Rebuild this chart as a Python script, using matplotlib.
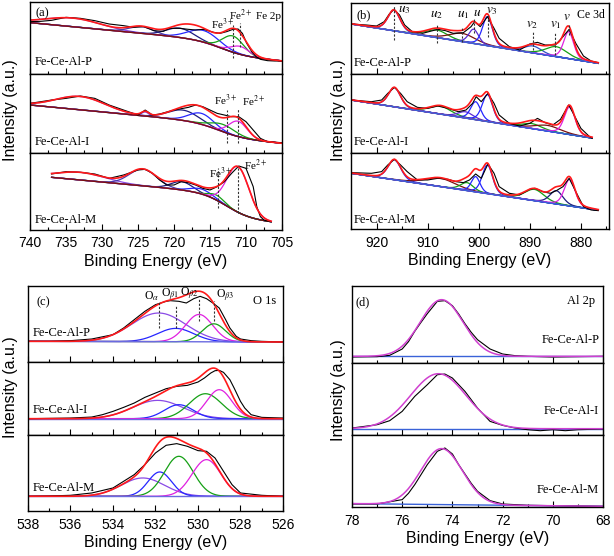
import numpy as np
import matplotlib
matplotlib.use('Agg')
import matplotlib.pyplot as plt
from matplotlib.ticker import MultipleLocator

plt.rcParams['font.family'] = ['Liberation Sans', 'DejaVu Sans']
plt.rcParams['mathtext.fontset'] = 'stix'

samples = ['Fe-Ce-Al-P', 'Fe-Ce-Al-I', 'Fe-Ce-Al-M']

# ---------------- (a) Fe 2p ----------------
fe2pE_P = [740, 738.5, 737, 735, 733, 731, 729, 727, 725.6, 724.2, 722.8, 721.5, 720.6, 719.2, 718, 717, 715.9,
           714.5, 713.6, 712.7, 711.8, 711.1, 710.5, 709.9, 709.2, 708.6, 708, 707, 706, 705]
fe2pI_P = [157, 158, 161, 170, 167, 160, 150, 145, 140, 142, 130, 128, 137, 137, 134, 132, 134,
           125, 122, 127, 134, 135, 122, 92, 67, 52, 44, 40, 39, 39]
fe2pE_I = [740, 737, 735, 733, 731, 729, 727, 725, 724, 723, 722, 720, 718, 717, 716, 715, 714, 713, 712, 711,
           710, 709, 708, 707, 705]
fe2pI_I = [148, 158, 163, 170, 163, 143, 128, 113, 128, 113, 116, 128, 136, 143, 138, 128, 118, 113, 108, 108,
           93, 68, 43, 33, 30]
fe2pE_M = [737, 735, 733, 731, 729, 727, 725, 724, 723, 722, 721, 720, 719, 718, 717, 716, 715, 714, 713, 712,
           711, 710, 709, 708.5, 708, 707.5, 707, 706.5]
fe2pI_M = [168, 175, 173, 168, 155, 165, 180, 182, 170, 150, 135, 135, 145, 142, 135, 125, 120, 130, 145, 170,
           192, 185, 130, 70, 40, 30, 27, 25]

# fitted components: (centre eV, height, fwhm eV)
fe2pPeaks_P = [(734, 26, 9), (724.5, 20, 4), (719.2, 28, 4.5), (715.9, 35, 5), (711.8, 49, 3.4), (710.8, 24, 3)]
fe2pPeaks_I = [(733, 40, 8), (724, 12, 1.2), (718.7, 31, 5), (716.2, 33, 4), (713.2, 22, 4), (711.1, 46, 3)]
fe2pPeaks_M = [(733, 23, 8), (724.3, 50, 4.5), (718.9, 25, 3.5), (716.2, 15, 3.5), (714.1, 15, 2.5), (711.1, 137, 3.6)]
# Shirley-type background: (level at 705, slope, step, step centre, step width)
fe2pBg = [(39, 2.06, 43, 713.5, 1.8), (28, 2.06, 43, 713.8, 1.8), (20, 2.0, 74, 712.7, 1.7)]
fe2pRange = [(740, 705), (740, 705), (737, 706.5)]
fe2pMarks = [[(711.8, 47, 147), (710.8, 82, 154)],
             [(712.7, 28, 128), (711.1, 28, 130)],
             [(713.9, 65, 185), (711.1, 50, 193)]]
fe2pLabels = [[('Fe$^{3+}$', 714.8, 150), ('Fe$^{2+}$', 712.3, 177), ('Fe 2p', 708.6, 172)],
              [('Fe$^{3+}$', 714.4, 158), ('Fe$^{2+}$', 710.6, 153)],
              [('Fe$^{3+}$', 715.2, 170), ('Fe$^{2+}$', 710.3, 195)]]

# ---------------- (b) Ce 3d ----------------
ce3dE_P = [925, 922, 920, 918.5, 917.5, 916.6, 915.5, 914.5, 913, 911, 909, 908, 906.5, 905, 903, 901.5, 900.8,
           899.7, 898.3, 897, 896, 894, 892, 890, 888.5, 887, 885, 883.5, 882.3, 881, 879.5, 878, 876.6]
ce3dI_P = [150, 147, 144, 157, 180, 194, 177, 147, 127, 122, 130, 134, 130, 122, 124, 142, 157,
           142, 172, 137, 107, 82, 72, 90, 95, 87, 87, 112, 134, 92, 54, 39, 34]
ce3dE_I = [925, 921, 919, 917.8, 916.5, 915.3, 914, 912, 910, 908, 906, 904, 902.5, 901.2, 900.5, 899.5, 898.2,
           897, 896, 894, 892, 890, 888.5, 887, 885.5, 884, 882.4, 881.5, 880, 878.3, 877.8]
ce3dI_I = [158, 153, 158, 178, 196, 178, 153, 136, 133, 140, 133, 123, 128, 148, 168, 153, 178,
           148, 113, 88, 80, 88, 103, 90, 83, 100, 143, 118, 73, 48, 43]
ce3dE_M = [925, 921, 919, 917.8, 916.5, 915.3, 914, 912, 910, 908, 906, 904.5, 903, 901.8, 900.6, 899.5, 898.2,
           897, 896, 894, 892, 890, 889, 887.5, 886, 884.8, 883.5, 882.3, 881, 879.5, 878, 876.6]
ce3dI_M = [170, 168, 173, 193, 210, 193, 173, 148, 148, 153, 150, 143, 140, 148, 166, 153, 196,
           168, 128, 108, 103, 120, 123, 113, 108, 116, 128, 153, 113, 68, 58, 56]

ce3dPeaks_P = [(916.6, 62, 2.8), (908.2, 23, 5), (903.2, 25, 6), (901.0, 43, 2.3), (898.3, 87, 2.3),
               (889.4, 21, 4), (884.8, 30, 5), (882.4, 81, 2.3)]
ce3dPeaks_I = [(916.5, 58, 2.8), (907.5, 24, 5), (902.6, 19, 3.5), (900.6, 54, 2.3), (898.3, 81, 2.4),
               (889.6, 15, 4.5), (886.5, 17, 6), (882.2, 83, 2.5)]
ce3dPeaks_M = [(916.5, 60, 3), (907.5, 25, 7), (902.3, 24, 3), (900.6, 46, 2.0), (898.3, 86, 2.4),
               (889.1, 34, 4.5), (884.8, 40, 3), (882.2, 80, 2.5)]
# linear background: (level at 925, slope per eV)
ce3dBg = [(150, 2.44), (158, 2.42), (168, 2.29)]
ce3dRange = [(925, 876.6), (925, 877.8), (925, 876.6)]
ce3dMarks = [(916.6, 102, 207), (908.2, 92, 147), (903.2, 97, 142), (900.9, 122, 167), (898.2, 112, 177),
             (889.4, 72, 127), (885.0, 57, 122), (882.3, 117, 147)]
ce3dLabels = [('$u_3$', 914.6, 192), ('$u_2$', 908.2, 177), ('$u_1$', 903.0, 177), ('$u$', 900.3, 184),
              ('$v_3$', 897.5, 188), ('$v_2$', 889.6, 148), ('$v_1$', 885.0, 148), ('$v$', 882.8, 170)]

# ---------------- (c) O 1s ----------------
o1sE_P = [538, 537, 536, 535, 534, 533.5, 533, 532.5, 532, 531.5, 531.3, 530.9, 530.55, 530.2, 529.9, 529.6,
          529.3, 529.0, 528.7, 528.5, 528.2, 528.0, 527.5, 527, 526]
o1sI_P = [62, 62, 64, 69, 82, 102, 127, 152, 172, 182, 184, 182, 177, 190, 197, 190,
          177, 162, 127, 102, 77, 69, 64, 62, 60]
o1sE_I = [538, 536, 535, 534.5, 534, 533.5, 533, 532.5, 532, 531.5, 531, 530.5, 530, 529.7, 529.4, 529.2,
          529.0, 528.8, 528.5, 528.3, 528.0, 527.8, 527.5, 527, 526]
o1sI_I = [48, 50, 53, 60, 70, 82, 95, 112, 125, 138, 145, 148, 158, 170, 185, 192,
          193, 187, 165, 140, 100, 80, 60, 52, 50]
o1sE_M = [538, 537, 536, 535, 534, 533.5, 533, 532.5, 532, 531.5, 531, 530.5, 530, 529.6, 529.2, 528.8,
          528.4, 528, 527, 526]
o1sI_M = [45, 46, 48, 55, 70, 90, 110, 140, 175, 198, 203, 195, 182, 180, 160, 120,
          80, 55, 48, 45]

o1sPeaks_P = [(531.85, 86, 3.0), (531.05, 40, 2.0), (529.95, 82, 1.5), (529.25, 54, 1.3)]
o1sPeaks_I = [(531.9, 55, 2.8), (530.9, 42, 1.6), (529.65, 75, 1.8), (529.0, 87, 1.4)]
o1sPeaks_M = [(532.6, 55, 2.4), (531.8, 73, 1.3), (530.9, 120, 1.6), (529.6, 110, 1.6)]
o1sBg = [(62, 60), (48, 48), (45, 45)]
o1sMarks = [(531.84, 102, 182), (531.05, 102, 172), (529.95, 122, 192), (529.26, 122, 182)]
o1sLabels = [('O$_{\\alpha}$', 532.2, 197), ('O$_{\\beta1}$', 531.3, 202), ('O$_{\\beta2}$', 530.4, 204),
             ('O$_{\\beta3}$', 528.7, 197)]

# ---------------- (d) Al 2p ----------------
al2pE_P = [78, 77, 76.5, 76, 75.75, 75.5, 75.25, 75, 74.6, 74.3, 74, 73.75, 73.5, 73.25, 73, 72.5, 72, 71.5,
           71, 70, 69, 68]
al2pI_P = [18, 19, 23, 42, 64, 95, 122, 148, 185, 187, 172, 147, 118, 92, 70, 42, 27, 22,
           20, 18, 19, 20]
al2pE_I = [78, 77, 76.5, 76, 75.5, 75, 74.6, 74.3, 74, 73.5, 73, 72.5, 72, 71.5, 71, 70.5, 70, 69.5, 69, 68]
al2pI_I = [20, 30, 42, 70, 115, 150, 180, 182, 170, 130, 80, 40, 28, 20, 15, 12, 15, 12, 15, 17]
al2pE_M = [78, 77, 76, 75.75, 75.5, 75.25, 75, 74.6, 74.3, 74, 73.75, 73.5, 73.25, 73, 72.5, 72, 71, 70, 69, 68]
al2pI_M = [10, 10, 23, 42, 68, 98, 128, 168, 178, 160, 128, 100, 72, 48, 20, 10, 6, 5, 4, 3]

al2pPeaks = [[(74.43, 170, 2.0)], [(74.56, 165, 2.6)], [(74.43, 168, 1.95)]]
al2pBg = [(20, 20), (18, 18), (11, 3)]

# colours
RED = '#ff1a1a'
BLUE = '#2626ff'
NAVY = '#1c1c80'
SLATE = '#4a38a8'
VIOLET = '#8a4ae6'
INDIGO = '#5a2ad0'
GREEN = '#15a015'
MAGENTA = '#e020e0'
BROWN = '#7a1010'
BGBLUE = '#3a62d8'

W, H = 614.0, 556.0
fig = plt.figure(figsize=(W / 100, H / 100), dpi=100)


def peak(E, c, a, fwhm, eta):
    g = np.exp(-4 * np.log(2) * ((E - c) / fwhm) ** 2)
    l = 1.0 / (1 + (2 * (E - c) / fwhm) ** 2)
    return a * ((1 - eta) * g + eta * l)


def makePanel(x0, x1, rows, xlim, major, minor):
    axes = []
    for i, (t, b) in enumerate(rows):
        ax = fig.add_axes([x0 / W, 1 - b / H, (x1 - x0) / W, (b - t) / H])
        ax.set_xlim(*xlim)
        ax.set_ylim(0, 3 * (b - t))
        ax.set_yticks([])
        ax.xaxis.set_major_locator(MultipleLocator(major))
        ax.xaxis.set_minor_locator(MultipleLocator(minor))
        ax.tick_params(axis='x', which='major', direction='in', length=4, width=0.8, labelsize=10, pad=4.5)
        ax.tick_params(axis='x', which='minor', direction='in', length=2.5, width=0.8)
        for s in ax.spines.values():
            s.set_linewidth(1.0)
        if i < len(rows) - 1:
            ax.tick_params(axis='x', labelbottom=False)
        else:
            ax.set_xlabel('Binding Energy (eV)', fontsize=11.5, labelpad=2.5)
        axes.append(ax)
    return axes


def drawFit(ax, E, base, peaks, colors, bgColor, eta):
    total = base.copy()
    for (c, a, f), col in zip(peaks, colors):
        p = peak(E, c, a, f, eta)
        ax.plot(E, base + p, color=col, lw=0.9)
        total = total + p
    ax.plot(E, base, color=bgColor, lw=1.0)
    return total


def serifText(ax, x, y, s, **kw):
    kw.setdefault('fontsize', 9)
    ax.text(x, y, s, family='Liberation Serif', **kw)


# ---- panel (a)
axA = makePanel(30, 282, [(2, 74), (74, 152.7), (152.7, 230)], (740, 705), 5, 2.5)
feData = [(fe2pE_P, fe2pI_P), (fe2pE_I, fe2pI_I), (fe2pE_M, fe2pI_M)]
fePeaks = [fe2pPeaks_P, fe2pPeaks_I, fe2pPeaks_M]
feColors = [[VIOLET, SLATE, NAVY, BLUE, GREEN, MAGENTA],
            [VIOLET, VIOLET, NAVY, BLUE, GREEN, MAGENTA],
            [VIOLET, SLATE, NAVY, BLUE, GREEN, MAGENTA]]
for i, ax in enumerate(axA):
    E = np.linspace(fe2pRange[i][0], fe2pRange[i][1], 700)
    b0, sl, st, xs, ws = fe2pBg[i]
    base = b0 + sl * (E - 705) + st / (1 + np.exp(-(E - xs) / ws))
    total = drawFit(ax, E, base, fePeaks[i], feColors[i], BROWN, 0.0)
    ax.plot(feData[i][0], feData[i][1], color='k', lw=0.8)
    ax.plot(E, total, color=RED, lw=1.2)
    for xm, lo, hi in fe2pMarks[i]:
        ax.plot([xm, xm], [lo, hi], color='#333333', lw=0.8, ls=(0, (2, 1.5)))
    for s, x, y in fe2pLabels[i]:
        serifText(ax, x, y, s, ha='left', va='center', fontsize=8)
    serifText(ax, 0.02, [0.17, 0.14, 0.13][i], samples[i], transform=ax.transAxes, va='center')
serifText(axA[0], 0.02, 0.85, '(a)', transform=axA[0].transAxes, va='center')

# ---- panel (b)
axB = makePanel(351, 609, [(3, 74), (74, 152.7), (152.7, 229.3)], (925, 874.5), 10, 5)
ceData = [(ce3dE_P, ce3dI_P), (ce3dE_I, ce3dI_I), (ce3dE_M, ce3dI_M)]
cePeaks = [ce3dPeaks_P, ce3dPeaks_I, ce3dPeaks_M]
ceColors = [[BLUE, GREEN, BROWN, INDIGO, BLUE, '#2f4fc8', GREEN, MAGENTA],
            [BLUE, GREEN, INDIGO, BLUE, BLUE, GREEN, BROWN, MAGENTA],
            [BLUE, BROWN, GREEN, BLUE, BLUE, GREEN, NAVY, MAGENTA]]
for i, ax in enumerate(axB):
    E = np.linspace(ce3dRange[i][0], ce3dRange[i][1], 800)
    lv, sl = ce3dBg[i]
    base = lv - sl * (925 - E)
    total = drawFit(ax, E, base, cePeaks[i], ceColors[i], BGBLUE, 0.3)
    ax.plot(ceData[i][0], ceData[i][1], color='k', lw=0.8)
    ax.plot(E, total, color=RED, lw=1.2)
    serifText(ax, 0.012, [0.155, 0.136, 0.12][i], samples[i], transform=ax.transAxes, va='center')
for xm, lo, hi in ce3dMarks:
    axB[0].plot([xm, xm], [lo, hi], color='#333333', lw=0.8, ls=(0, (2, 1.5)))
for s, x, y in ce3dLabels:
    serifText(axB[0], x, y, s, ha='center', va='center', fontsize=9.5)
serifText(axB[0], 0.023, 0.83, '(b)', transform=axB[0].transAxes, va='center')
serifText(axB[0], 0.985, 0.83, 'Ce 3d', transform=axB[0].transAxes, va='center', ha='right', fontsize=8.5)

# ---- panel (c)
axC = makePanel(28, 283, [(286, 362), (362, 434.7), (434.7, 511.3)], (538, 526), 2, 1)
oData = [(o1sE_P, o1sI_P), (o1sE_I, o1sI_I), (o1sE_M, o1sI_M)]
oPeaks = [o1sPeaks_P, o1sPeaks_I, o1sPeaks_M]
oColors = [[VIOLET, BLUE, MAGENTA, GREEN],
           [VIOLET, BLUE, GREEN, MAGENTA],
           [VIOLET, BLUE, GREEN, MAGENTA]]
for i, ax in enumerate(axC):
    E = np.linspace(538, 526, 600)
    yL, yR = o1sBg[i]
    base = yL + (yR - yL) * (538 - E) / 12.0
    total = drawFit(ax, E, base, oPeaks[i], oColors[i], '#6a6ae0', 0.0)
    ax.plot(oData[i][0], oData[i][1], color='k', lw=0.8)
    ax.plot(E, total, color=RED, lw=1.2)
    serifText(ax, 0.02, [0.38, 0.34, 0.30][i], samples[i], transform=ax.transAxes, va='center')
for xm, lo, hi in o1sMarks:
    axC[0].plot([xm, xm], [lo, hi], color='#333333', lw=0.8, ls=(0, (2, 1.5)))
for s, x, y in o1sLabels:
    serifText(axC[0], x, y, s, ha='center', va='center', fontsize=8.5)
serifText(axC[0], 0.035, 0.78, '(c)', transform=axC[0].transAxes, va='center')
serifText(axC[0], 0.975, 0.8, 'O 1s', transform=axC[0].transAxes, va='center', ha='right')

# ---- panel (d)
axD = makePanel(352, 603, [(286, 363), (363, 434.7), (434.7, 507.3)], (78, 68), 2, 1)
alData = [(al2pE_P, al2pI_P), (al2pE_I, al2pI_I), (al2pE_M, al2pI_M)]
for i, ax in enumerate(axD):
    E = np.linspace(78, 68, 500)
    yL, yR = al2pBg[i]
    base = yL + (yR - yL) * (78 - E) / 10.0
    ax.plot(E, base, color=BGBLUE, lw=1.0)
    ax.plot(alData[i][0], alData[i][1], color='k', lw=0.8)
    fit = base.copy()
    for c, a, f in al2pPeaks[i]:
        fit = fit + peak(E, c, a, f, 0.0)
    ax.plot(E, fit, color='#d040d0', lw=1.1)
    serifText(ax, 0.985, [0.30, 0.33, 0.24][i], samples[i], transform=ax.transAxes, va='center', ha='right')
serifText(axD[0], 0.015, 0.79, '(d)', transform=axD[0].transAxes, va='center')
serifText(axD[0], 0.97, 0.8, 'Al 2p', transform=axD[0].transAxes, va='center', ha='right')

# y labels
for xp, yp in [(11, 110), (338, 110), (11, 387), (338, 390)]:
    fig.text(xp / W, 1 - yp / H, 'Intensity (a.u.)', rotation=90, ha='center', va='center', fontsize=11.5)

fig.savefig('out.png', dpi=100)
